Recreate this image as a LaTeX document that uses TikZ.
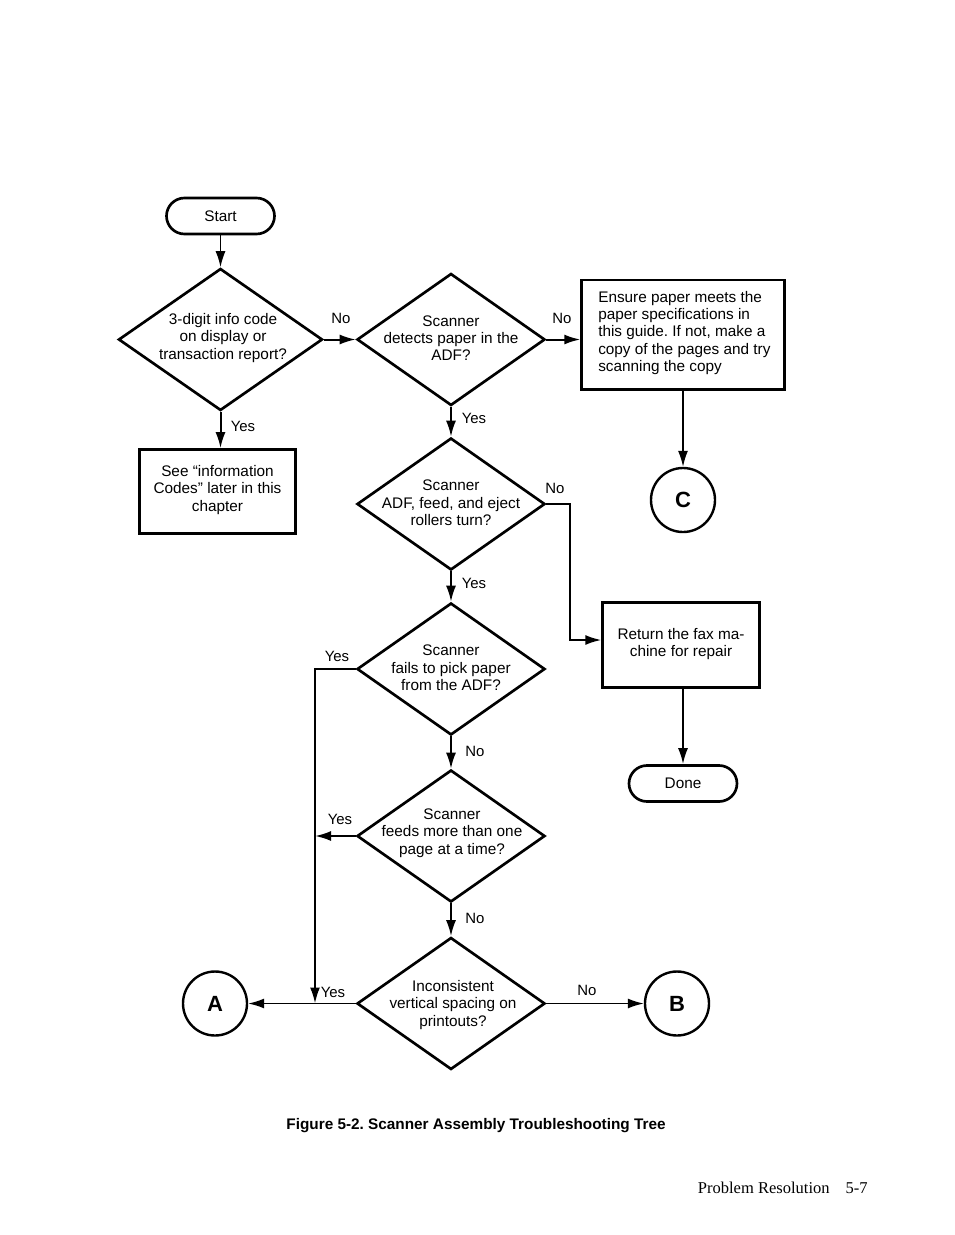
\documentclass[tikz,border=0pt]{standalone}
\usepackage{fontspec}
\setmainfont{Liberation Sans}
\newfontfamily\serifft{Liberation Serif}
\usetikzlibrary{shapes.geometric,arrows.meta}
\frenchspacing
\begin{document}
\begin{tikzpicture}[x=0.75pt,y=-0.75pt,
  txt/.style={font=\fontsize{11.5}{13}\selectfont, align=center, inner sep=0pt},
  lbl/.style={font=\fontsize{11.2}{12}\selectfont, inner sep=0pt},
  dia/.style={diamond, draw, line width=2pt, inner sep=0pt, minimum width=141pt, minimum height=99pt},
  term/.style={rectangle, draw, line width=2pt, rounded corners=13.5pt, minimum width=81pt, minimum height=27pt, font=\fontsize{11.5}{12.9}\selectfont},
  boxx/.style={rectangle, draw, line width=2pt, inner sep=0pt},
  circ/.style={circle, draw, line width=1.8pt, minimum size=48pt, inner sep=0pt, font=\fontsize{16.5}{17}\selectfont\bfseries},
  conn/.style={line width=1.5pt, -{Latex[length=12pt,width=7.5pt]}},
  thin/.style={line width=1.1pt, -{Latex[length=12pt,width=7.5pt]}}
]
\useasboundingbox[fill=white] (0,0) rectangle (954,1235);

% shapes
\node[term] (start) at (220.5,216) {Start};
\node[dia, minimum width=153pt, minimum height=106.5pt] (d1) at (220.5,339.5) {};
\node[txt] (d1t) at (223,338) {3-digit info code\\on display or\\transaction report?};
\node[dia] (d2) at (451,339.5) {};
\node[txt] (d2t) at (451,338) {Scanner\\detects paper in the\\ADF?};
\node[boxx, minimum width=152pt, minimum height=82pt] (ens) at (683,334.5) {};
\node[txt, align=left, anchor=west] (enst) at (598,333) {Ensure paper meets the\\paper specifications in\\this guide. If not, make a\\copy of the pages and try\\scanning the copy};
\node[circ] (C) at (683,500) {C};
\node[boxx, minimum width=117pt, minimum height=63pt] (see) at (217.5,491.5) {};
\node[txt] (seet) at (217.5,490) {See “information\\Codes” later in this\\chapter};
\node[dia] (d3) at (451,504) {};
\node[txt] (d3t) at (451,503) {Scanner\\ADF, feed, and eject\\rollers turn?};
\node[dia] (d4) at (451,669) {};
\node[txt] (d4t) at (451,668) {Scanner\\fails to pick paper\\from the ADF?};
\node[boxx, minimum width=117.5pt, minimum height=63.5pt] (ret) at (681,645) {};
\node[txt] (rett) at (681,644) {Return the fax ma-\\chine for repair};
\node[term] (done) at (683,783.5) {Done};
\node[dia] (d5) at (451,836) {};
\node[txt] (d5t) at (452,833) {Scanner\\feeds more than one\\page at a time?};
\node[dia] (d6) at (451,1003.5) {};
\node[txt] (d6t) at (453,1005) {Inconsistent\\vertical spacing on\\printouts?};
\node[circ] (A) at (215,1003.5) {A};
\node[circ] (B) at (677,1003.5) {B};

% connectors
\draw[thin] (start.south) -- (d1.north);
\draw[conn] (d1.east) -- (d2.west);
\draw[conn] (d2.east) -- (d2.east -| ens.west);
\draw[conn] (d1.south) -- (d1.south |- see.north);
\draw[conn] (d2.south) -- (d3.north);
\draw[thin] (ens.south -| C.north) -- (C.north);
\coordinate (k1) at (570,640);
\draw[conn] (d3.east) -| (k1) -- (k1 -| ret.west);
\draw[conn] (d3.south) -- (d4.north);
\draw[conn] (ret.south -| done.north) -- (done.north);
\coordinate (vx) at (315,1003.5);
\draw[conn] (d4.west) -| (vx);
\draw[conn] (d4.south) -- (d5.north);
\draw[conn] (d5.west) -- (d5.west -| vx);
\draw[conn] (d5.south) -- (d6.north);
\draw[thin] (d6.west) -- (A.east);
\draw[thin] (d6.east) -- (B.west);

% labels
\node[lbl] (l1) at (341,318) {No};
\node[lbl] (l2) at (562,318) {No};
\node[lbl] (l3) at (243,426) {Yes};
\node[lbl] (l4) at (474,418) {Yes};
\node[lbl] (l5) at (555,488) {No};
\node[lbl] (l6) at (474,583) {Yes};
\node[lbl] (l7) at (337,656) {Yes};
\node[lbl] (l8) at (475,751) {No};
\node[lbl] (l9) at (340,819) {Yes};
\node[lbl] (l10) at (475,918) {No};
\node[lbl] (l11) at (333,992) {Yes};
\node[lbl] (l12) at (587,990) {No};

% caption and footer
\node[font=\fontsize{11.5}{13}\selectfont\bfseries, inner sep=0pt] (cap) at (476,1126) {Figure 5-2. Scanner Assembly Troubleshooting Tree};
\node[font=\serifft\fontsize{12.4}{14}\selectfont, inner sep=0pt, anchor=east] (foot) at (868,1188) {Problem Resolution\hspace{12pt}5-7};
\end{tikzpicture}
\end{document}
